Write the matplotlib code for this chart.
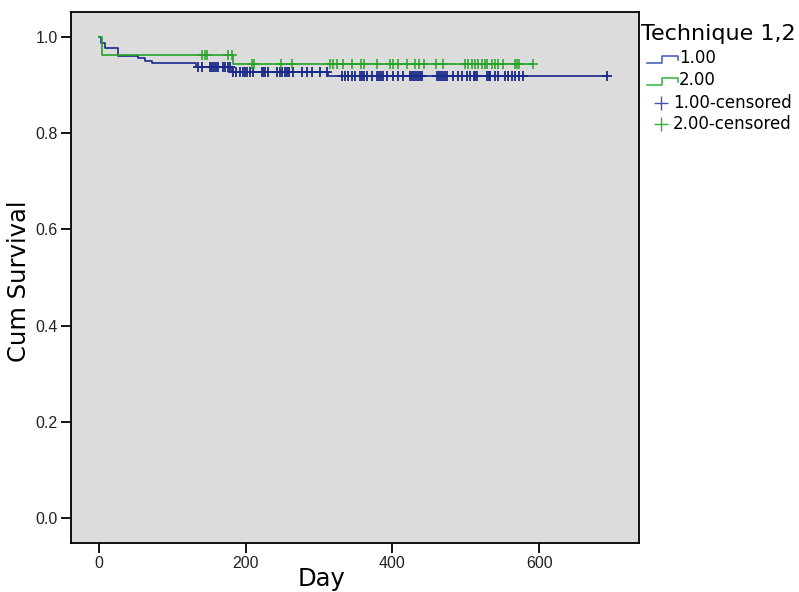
import matplotlib
matplotlib.use('Agg')
import matplotlib.pyplot as plt
import numpy as np
from matplotlib.lines import Line2D

# Kaplan-Meier steps (day, cumulative survival)
blue_time = [0, 3, 8, 26, 53, 63, 72, 133, 181, 312, 692]
blue_surv = [1.0, 0.988, 0.977, 0.961, 0.957, 0.951, 0.945, 0.938, 0.927, 0.919, 0.919]
green_time = [0, 4, 183, 592]
green_surv = [1.0, 0.963, 0.943, 0.943]

# censored observations (days)
blue_cens = [135, 140, 151, 154, 157, 160, 162, 169, 172, 176, 179, 183, 187, 192,
             196, 199, 202, 206, 210, 222, 224, 226, 230, 243, 247, 250, 254, 256,
             259, 265, 277, 284, 290, 301, 311, 331, 335, 340, 345, 349, 356, 359,
             361, 365, 372, 379, 382, 385, 387, 393, 401, 408, 415, 424, 427, 430,
             432, 435, 438, 440, 461, 464, 466, 469, 472, 475, 483, 490, 495, 502,
             506, 511, 513, 515, 529, 531, 533, 540, 544, 554, 558, 563, 567, 572,
             578, 692]
green_cens = [140, 144, 147, 176, 181, 208, 211, 248, 263, 315, 319, 324, 333, 345,
              357, 361, 379, 397, 401, 407, 420, 431, 436, 443, 460, 469, 499, 503,
              509, 513, 517, 522, 526, 529, 536, 540, 544, 550, 567, 570, 573, 592]

xticks = [0, 200, 400, 600]
yticks = [0.0, 0.2, 0.4, 0.6, 0.8, 1.0]

BLUE = '#1a2a8a'
GREEN = '#26a326'
LEG_BLUE = '#3a56b8'
LEG_GREEN = '#34b034'

W, H = 799, 592


def surv_at(times, surv, t):
    idx = np.searchsorted(times, t, side='right') - 1
    return np.asarray(surv)[idx]


def px(x, y):
    return x / W, 1 - y / H


fig = plt.figure(figsize=(W / 100, H / 100), dpi=100)
ax = fig.add_axes([71 / W, 49 / H, (639 - 71) / W, (543 - 12) / H])
ax.set_facecolor('#dcdcdc')

ax.step(blue_time, blue_surv, where='post', color=BLUE, lw=1.2)
ax.step(green_time, green_surv, where='post', color=GREEN, lw=1.2)
ax.plot(blue_cens, surv_at(blue_time, blue_surv, blue_cens), ls='none',
        marker='+', ms=7, mew=1.3, color=BLUE)
ax.plot(green_cens, surv_at(green_time, green_surv, green_cens), ls='none',
        marker='+', ms=7, mew=1.1, color=GREEN)

ax.set_xlim(-38, 736)
ax.set_ylim(-0.052, 1.052)
ax.set_xticks(xticks)
ax.set_yticks(yticks)
ax.set_yticklabels([f'{v:.1f}' for v in yticks])
for lab in ax.get_xticklabels() + ax.get_yticklabels():
    lab.set_fontfamily('Liberation Sans')
    lab.set_fontsize(11.5)
    lab.set_color('#222222')
ax.tick_params(direction='out', length=7, width=1.3, pad=2.5)
for sp in ax.spines.values():
    sp.set_linewidth(1.3)
    sp.set_color('black')

fig.text(*px(322, 579), 'Day', fontsize=17.5, ha='center', va='center')
fig.text(*px(19, 281), 'Cum Survival', fontsize=17.5, ha='center', va='center',
         rotation=90)

# legend drawn by hand, SPSS style
fig.text(*px(641, 34), 'Technique 1,2', fontsize=16, va='center', ha='left')
for y0, col, lab in [(58, LEG_BLUE, '1.00'), (80, LEG_GREEN, '2.00')]:
    xs = np.array([647, 662, 662, 678, 678])
    ys = np.array([y0 + 5, y0 + 5, y0 - 2, y0 - 2, y0 + 2])
    fig.add_artist(Line2D(xs / W, 1 - ys / H, color=col, lw=1.1))
    fig.text(*px(679, y0), lab, fontsize=12, va='center', ha='left')
for y0, col, lab in [(103, LEG_BLUE, '1.00-censored'), (124, LEG_GREEN, '2.00-censored')]:
    fig.add_artist(Line2D([661 / W], [1 - y0 / H], marker='+', ms=10, mew=1.0,
                          color=col, ls='none'))
    fig.text(*px(673, y0), lab, fontsize=12, va='center', ha='left')

fig.savefig('out.png', dpi=100, facecolor='white')
